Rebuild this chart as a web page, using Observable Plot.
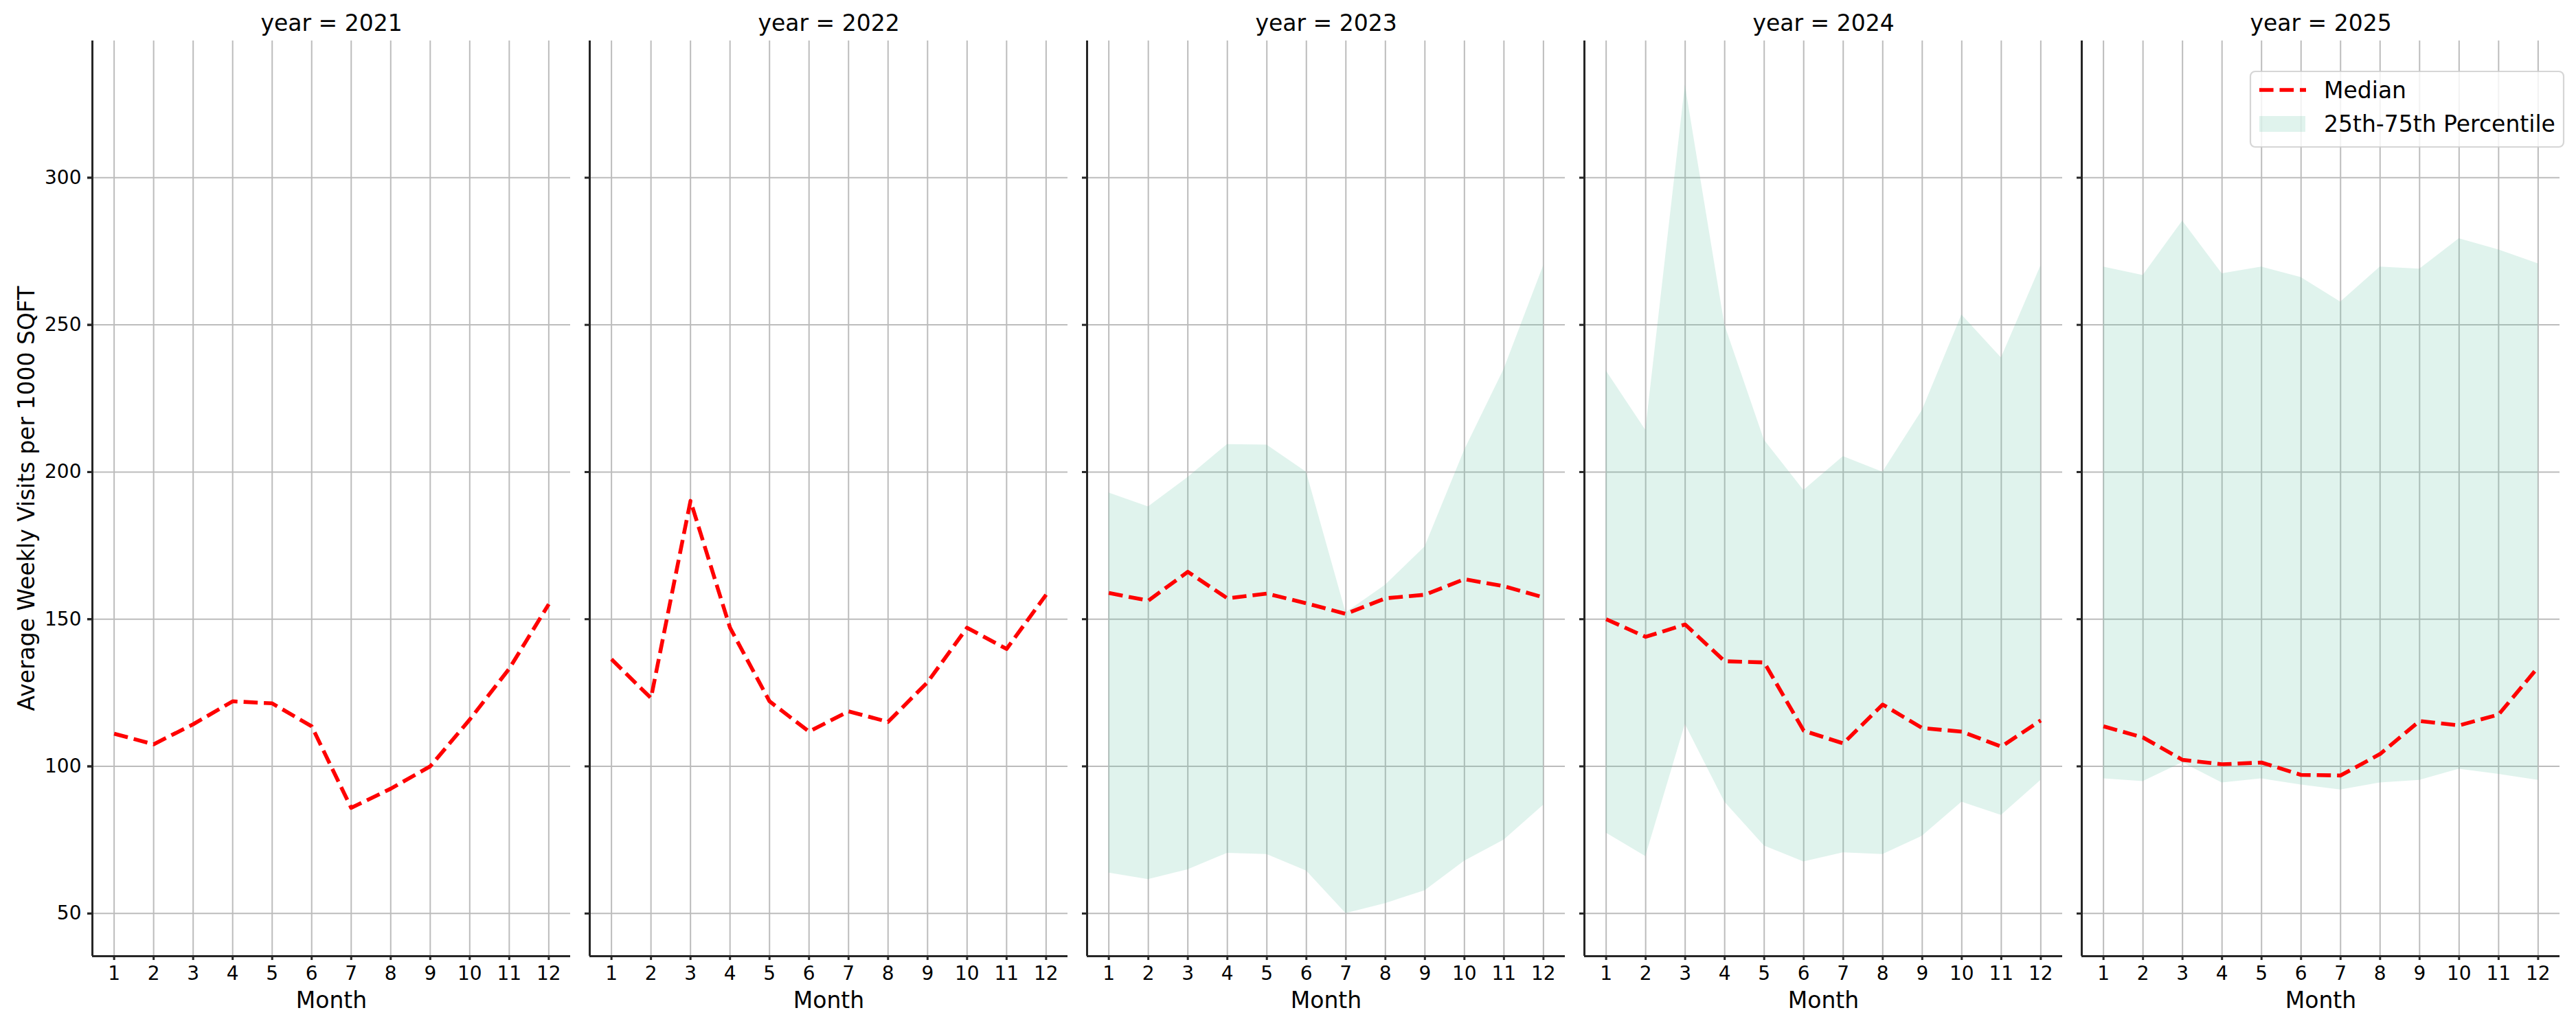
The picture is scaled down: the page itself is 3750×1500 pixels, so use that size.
<!DOCTYPE html>
<html>
<head>
<meta charset="utf-8">
<script src="https://cdn.jsdelivr.net/npm/d3@7"></script>
<script src="https://cdn.jsdelivr.net/npm/@observablehq/plot@0.6"></script>
<style>
  html, body { margin: 0; padding: 0; background: #fff; overflow: hidden; }
  #chart svg { display: block; }
</style>
</head>
<body>
<div id="chart"></div>
<script>
// ---- data ----
const years = [2021, 2022, 2023, 2024, 2025];
const months = [1, 2, 3, 4, 5, 6, 7, 8, 9, 10, 11, 12];
const yTicks = [50, 100, 150, 200, 250, 300];
const xDomain = [0.45, 12.55];
const yDomain = [35.5, 346.5];

const median2021 = [111.1, 107.5, 114.3, 122.1, 121.4, 113.6, 85.9, 92.4, 100.0, 115.9, 133.2, 155.1];
const median2022 = [136.4, 123.2, 190.2, 147.1, 122.1, 111.8, 118.7, 115.1, 128.6, 147.1, 139.9, 158.3];
const median2023 = [158.9, 156.3, 166.1, 157.1, 158.7, 155.4, 151.8, 157.1, 158.3, 163.6, 161.2, 157.4];
const median2024 = [150.0, 144.0, 148.2, 135.7, 135.3, 112.1, 107.8, 121.0, 113.0, 111.8, 106.7, 115.6];
const median2025 = [113.6, 109.8, 102.2, 100.7, 101.3, 97.1, 96.9, 104.2, 115.4, 113.9, 117.6, 133.7];

const p25_2023 = [63.8, 61.6, 64.9, 70.5, 70.1, 64.5, 50.0, 53.4, 57.8, 67.8, 75.0, 86.8];
const p75_2023 = [192.9, 188.2, 198.2, 209.4, 209.2, 200.0, 152.2, 161.6, 174.6, 207.4, 234.9, 270.1];
const p25_2024 = [77.4, 69.4, 114.3, 87.9, 73.0, 67.6, 70.7, 70.1, 76.3, 87.9, 83.4, 95.3];
const p75_2024 = [234.4, 214.2, 331.5, 250.0, 210.9, 193.8, 205.3, 200.0, 221.0, 253.4, 238.8, 270.1];
const p25_2025 = [95.8, 94.9, 101.3, 94.4, 95.8, 93.7, 92.0, 94.4, 95.3, 99.1, 97.3, 95.3];
const p75_2025 = [269.7, 266.8, 285.3, 267.4, 269.7, 266.1, 257.8, 269.7, 269.0, 279.3, 275.5, 270.8];

const yLabel = "Average Weekly Visits per 1000 SQFT";
const legendLabels = ["Median", "25th-75th Percentile"];

// ---- tables ----
const medians = {2021: median2021, 2022: median2022, 2023: median2023, 2024: median2024, 2025: median2025};
const bands = {2023: [p25_2023, p75_2023], 2024: [p25_2024, p75_2024], 2025: [p25_2025, p75_2025]};

const rows = years.flatMap(y => months.map((m, i) => ({year: y, month: m, median: medians[y][i]})));
const bandRows = Object.keys(bands).flatMap(y => months.map((m, i) => ({year: +y, month: m, p25: bands[y][0][i], p75: bands[y][1][i]})));

const RED = "#ff0000";
const FILL = "#66c2a5";
const GRID = "#bcbcbc";
const SPINE = "#262626";
const DASH = "20.6,8.9";

const chart = Plot.plot({
  width: 3750,
  height: 1500,
  marginLeft: 132,
  marginRight: 22,
  marginTop: 59,
  marginBottom: 108,
  style: {fontFamily: "'DejaVu Sans', sans-serif", fontSize: "28px", color: "#000", background: "#fff", overflow: "visible"},
  fx: {domain: years, paddingInner: 0.0386, paddingOuter: 0, axis: null},
  x: {domain: xDomain},
  y: {domain: yDomain},
  marks: [
    Plot.gridY({ticks: yTicks, stroke: GRID, strokeOpacity: 1, strokeWidth: 2}),
    Plot.gridX({ticks: months, stroke: GRID, strokeOpacity: 1, strokeWidth: 2}),
    Plot.areaY(bandRows, {fx: "year", x: "month", y1: "p25", y2: "p75", fill: FILL, fillOpacity: 0.2}),
    Plot.ruleX(years, {fx: d => d, x: () => xDomain[0], stroke: SPINE, strokeWidth: 3}),
    Plot.ruleY(years, {fx: d => d, y: () => yDomain[0], stroke: SPINE, strokeWidth: 3}),
    Plot.lineY(rows, {fx: "year", x: "month", y: "median", stroke: RED, strokeWidth: 5.6, strokeDasharray: DASH, strokeLinecap: "butt", strokeLinejoin: "round"}),
    Plot.axisY({ticks: yTicks, tickSize: 7, tickPadding: 9, fontSize: 28, label: null, stroke: SPINE, strokeWidth: 3}),
    Plot.axisY({ticks: yTicks, tickSize: 7, tickFormat: () => "", label: null, facetAnchor: null, stroke: SPINE, strokeWidth: 3}),
    Plot.axisX({ticks: months, tickSize: 6, tickPadding: 9, fontSize: 28, label: null, stroke: SPINE, strokeWidth: 3}),
    Plot.text(years, {fx: d => d, frameAnchor: "top", lineAnchor: "middle", textAnchor: "middle", dy: -25, text: d => `year = ${d}`, fontSize: 33}),
    Plot.text(years, {fx: d => d, frameAnchor: "bottom", lineAnchor: "middle", textAnchor: "middle", dy: 65, text: () => "Month", fontSize: 33}),
    Plot.text([years[0]], {fx: d => d, frameAnchor: "left", lineAnchor: "middle", textAnchor: "middle", dx: -94.6, rotate: -90, text: () => yLabel, fontSize: 33})
  ]
});

document.getElementById("chart").appendChild(chart);

// ---- legend (inside last panel, upper right) ----
const svg = d3.select(chart);
const lg = svg.append("g")
  .attr("font-family", "'DejaVu Sans', sans-serif")
  .attr("font-size", 33)
  .attr("text-anchor", "start");
lg.append("rect").attr("x", 3276).attr("y", 104).attr("width", 456).attr("height", 110)
  .attr("rx", 7).attr("fill", "#fff").attr("fill-opacity", 0.8)
  .attr("stroke", "#cccccc").attr("stroke-opacity", 0.8).attr("stroke-width", 2.2);
lg.append("line").attr("x1", 3289).attr("x2", 3357).attr("y1", 131).attr("y2", 131)
  .attr("stroke", RED).attr("stroke-width", 5.6).attr("stroke-dasharray", DASH);
lg.append("rect").attr("x", 3289).attr("y", 169).attr("width", 67).attr("height", 23)
  .attr("fill", FILL).attr("fill-opacity", 0.2);
lg.append("text").attr("x", 3383).attr("y", 143).attr("fill", "#000").attr("text-anchor", "start").text(legendLabels[0]);
lg.append("text").attr("x", 3383).attr("y", 192).attr("fill", "#000").attr("text-anchor", "start").text(legendLabels[1]);
</script>
</body>
</html>
